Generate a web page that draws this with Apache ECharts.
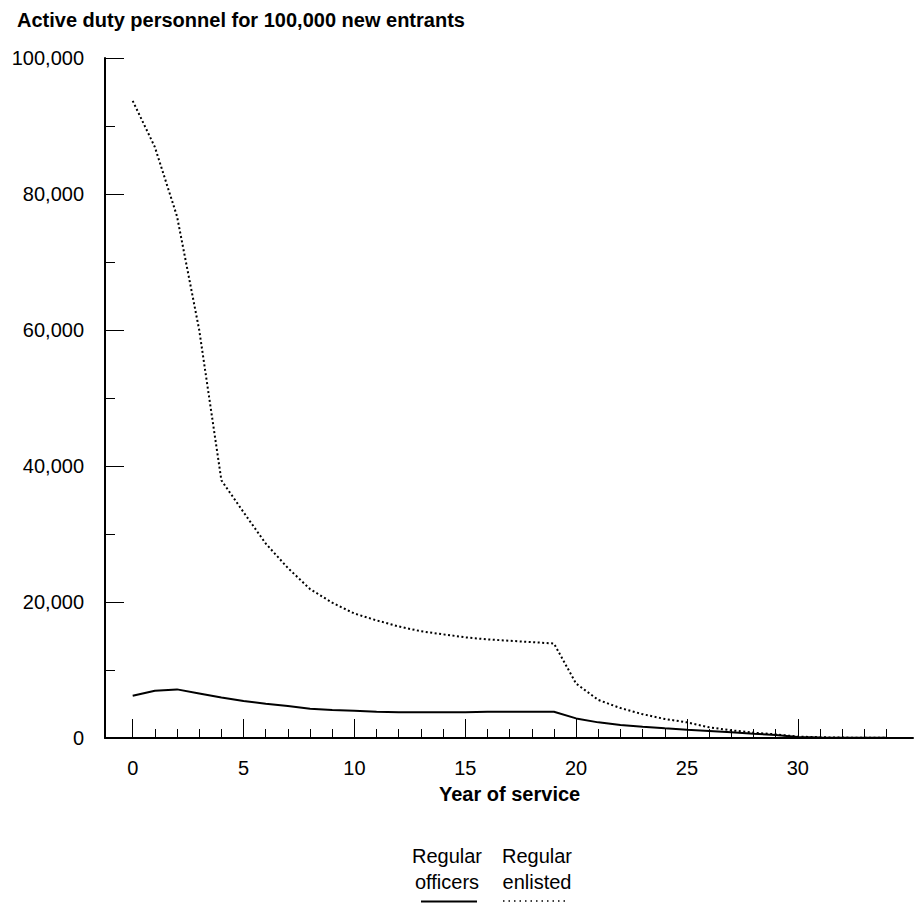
<!DOCTYPE html>
<html>
<head>
<meta charset="utf-8">
<style>
html,body{margin:0;padding:0;background:#fff;}
#chart{width:918px;height:913px;}
</style>
<script src="https://cdn.jsdelivr.net/npm/echarts@6/dist/echarts.min.js"></script>
</head>
<body>
<div id="chart"></div>
<script>
// ---- data ----
var title = 'Active duty personnel for 100,000 new entrants';
var xAxisTitle = 'Year of service';
var seriesNames = ['Regular officers', 'Regular enlisted'];
var legendLines = [['Regular', 'officers'], ['Regular', 'enlisted']];
var years = [0,1,2,3,4,5,6,7,8,9,10,11,12,13,14,15,16,17,18,19,20,21,22,23,24,25,26,27,28,29,30,31,32,33,34];
var officers = [6200,6950,7150,6550,5950,5450,5050,4700,4300,4100,4000,3870,3800,3780,3780,3780,3860,3870,3870,3870,2880,2300,1900,1660,1430,1220,1030,840,630,440,150,80,50,30,20];
var enlisted = [93700,86900,76700,60000,37900,33200,28600,25000,21900,19900,18300,17300,16400,15700,15250,14800,14500,14300,14100,13900,8000,5600,4400,3500,2800,2300,1570,1130,780,540,200,110,60,40,20];

var FONT = 'Liberation Sans, Arial, sans-serif';
var chart = echarts.init(document.getElementById('chart'), null, {renderer: 'svg'});

var hiddenY = function (gi) {
  return {type: 'value', gridIndex: gi, min: 0, max: 100000, show: false};
};

var option = {
  backgroundColor: '#fff',
  animation: false,
  title: {
    text: title, left: 12, top: 5,
    textStyle: {fontFamily: FONT, fontSize: 20, fontWeight: 'bold', color: '#000'}
  },
  grid: [
    {left: 105, right: 5, top: 58, bottom: 175, containLabel: false},
    {left: 132.7, width: 753.8, top: 58, bottom: 175, containLabel: false},
    {left: 132.7, width: 665.1, top: 58, bottom: 175, containLabel: false}
  ],
  xAxis: [
    {type: 'value', gridIndex: 0, min: -1.25, max: 35.2,
     axisLine: {show: true, onZero: false, lineStyle: {color: '#000', width: 2}},
     axisTick: {show: false}, axisLabel: {show: false}, splitLine: {show: false}},
    {type: 'value', gridIndex: 1, min: 0, max: 34, interval: 1,
     name: xAxisTitle, nameLocation: 'middle', nameGap: 46,
     nameTextStyle: {fontFamily: FONT, fontSize: 20, fontWeight: 'bold', color: '#000'},
     axisLine: {show: false, onZero: false},
     axisTick: {show: true, inside: true, length: 9, lineStyle: {color: '#000', width: 1}},
     axisLabel: {show: false}, splitLine: {show: false}},
    {type: 'value', gridIndex: 2, min: 0, max: 30, interval: 5,
     axisLine: {show: false, onZero: false},
     axisTick: {show: true, inside: true, length: 19, lineStyle: {color: '#000', width: 1}},
     axisLabel: {show: true, margin: 20, fontFamily: FONT, fontSize: 20, color: '#000'},
     splitLine: {show: false}}
  ],
  yAxis: [
    {type: 'value', gridIndex: 0, min: 0, max: 100000, interval: 20000,
     axisLine: {show: true, onZero: false, lineStyle: {color: '#000', width: 2}},
     axisTick: {show: true, inside: true, length: 19, lineStyle: {color: '#000', width: 1}},
     minorTick: {show: true, splitNumber: 2, length: 10, lineStyle: {color: '#000', width: 1}},
     axisLabel: {show: true, margin: 21, fontFamily: FONT, fontSize: 20, color: '#000',
       formatter: function (v) { return v.toLocaleString('en-US'); }},
     splitLine: {show: false}},
    hiddenY(1), hiddenY(2)
  ],
  series: [
    {name: seriesNames[0], type: 'line', xAxisIndex: 1, yAxisIndex: 1,
     data: years.map(function (y, i) { return [y, officers[i]]; }),
     symbol: 'none', lineStyle: {color: '#000', width: 2, type: 'solid'}},
    {name: seriesNames[1], type: 'line', xAxisIndex: 1, yAxisIndex: 1,
     data: years.map(function (y, i) { return [y, enlisted[i]]; }),
     symbol: 'none', lineStyle: {color: '#000', width: 2, type: [2, 2.5]}}
  ],
  graphic: [
    {type: 'text', x: 447, y: 843, style: {text: legendLines[0].join('\n'), font: '20px ' + FONT, fill: '#000', align: 'center', lineHeight: 26}},
    {type: 'text', x: 537, y: 843, style: {text: legendLines[1].join('\n'), font: '20px ' + FONT, fill: '#000', align: 'center', lineHeight: 26}},
    {type: 'line', shape: {x1: 421, y1: 901.5, x2: 477, y2: 901.5}, style: {stroke: '#000', lineWidth: 2}},
    {type: 'line', shape: {x1: 503, y1: 901, x2: 566, y2: 901}, style: {stroke: '#000', lineWidth: 1.5, lineDash: [1.5, 4]}}
  ]
};
chart.setOption(option);
</script>
</body>
</html>
